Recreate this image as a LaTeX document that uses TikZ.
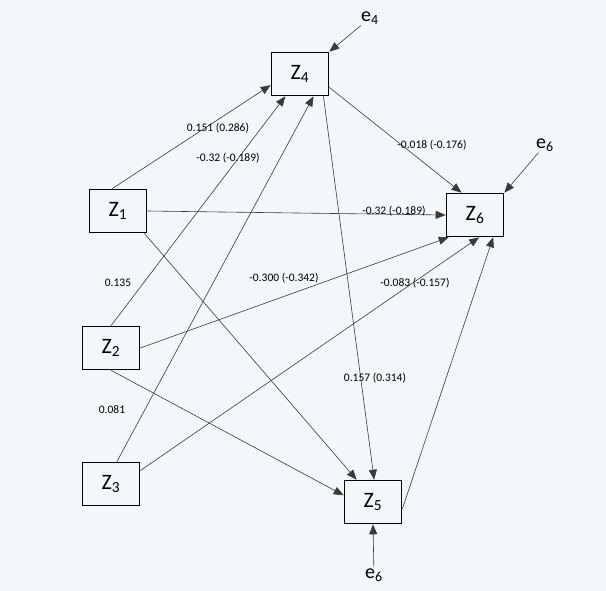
\documentclass[tikz,border=0pt]{standalone}
\usepackage{fontspec}
\setmainfont{Carlito}
\usetikzlibrary{arrows.meta,calc}
\definecolor{paper}{HTML}{F3F7F9}
\definecolor{ink}{HTML}{3A3A3A}
\tikzset{
  zbox/.style={draw=black, line width=1.6pt, minimum width=57pt, minimum height=43pt, inner sep=0pt, font=\fontsize{22}{24}\selectfont},
  err/.style={inner sep=1pt, font=\fontsize{20}{22}\selectfont},
  coef/.style={font=\fontsize{11.5}{13}\selectfont, inner sep=1pt},
  path/.style={ink, line width=0.6pt, -{Triangle[length=10pt,width=8pt]}},
}
\begin{document}
\begin{tikzpicture}[x=1pt,y=-1pt]
  % paper
  \fill[paper] (0,0) rectangle (606,591);
  \useasboundingbox (0,0) rectangle (606,591);

  % variables
  \node[zbox] (z1) at (118,211) {Z\textsubscript{1}};
  \node[zbox] (z2) at (111,348) {Z\textsubscript{2}};
  \node[zbox] (z3) at (111,484) {Z\textsubscript{3}};
  \node[zbox] (z4) at (300,74) {Z\textsubscript{4}};
  \node[zbox] (z5) at (373,502) {Z\textsubscript{5}};
  \node[zbox] (z6) at (475,215) {Z\textsubscript{6}};

  % error terms
  \node[err] (e4) at (370,18) {e\textsubscript{4}};
  \node[err] (e6t) at (545,145) {e\textsubscript{6}};
  \node[err] (e6b) at (374,575) {e\textsubscript{6}};

  % paths into Z4
  \draw[path] ($(z1.north west)!0.4!(z1.north east)$) -- ($(z4.north west)!0.75!(z4.south west)$);
  \draw[path] ($(z2.north west)!0.5!(z2.north east)$) -- ($(z4.south west)!0.25!(z4.south east)$);
  \draw[path] ($(z3.north west)!0.6!(z3.north east)$) -- ($(z4.south west)!0.73!(z4.south east)$);
  \draw[path] (e4) -- (z4.north east);

  % paths into Z5
  \draw[path] ($(z4.south west)!0.9!(z4.south east)$) -- ($(z5.north west)!0.52!(z5.north east)$);
  \draw[path] ($(z1.south east)+(-3,0)$) -- ($(z5.north west)!0.22!(z5.north east)$);
  \draw[path] (z2.south) -- ($(z5.north west)!0.35!(z5.south west)$);
  \draw[path] (e6b) -- (z5.south);

  % paths into Z6
  \draw[path] ($(z4.north east)!0.8!(z4.south east)$) -- ($(z6.north west)!0.27!(z6.north east)$);
  \draw[path] (z1.east) -- (z6.west);
  \draw[path] (z2.east) -- ($(z6.south west)+(3,0)$);
  \draw[path] ($(z3.north east)!0.2!(z3.south east)$) -- ($(z6.south west)!0.57!(z6.south east)$);
  \draw[path] ($(z5.north east)!0.66!(z5.south east)$) -- ($(z6.south west)!0.81!(z6.south east)$);
  \draw[path] (e6t) -- (z6.north east);

  % coefficients
  \foreach \x/\y/\t in {218/128/{0.151 (0.286)}, 228/158/{-0.32 (-0.189)}, 432/145/{-0.018 (-0.176)},
                        394/211/{-0.32 (-0.189)}, 118/283/{0.135}, 284/278/{-0.300 (-0.342)},
                        415/283/{-0.083 (-0.157)}, 375/378/{0.157 (0.314)}, 112/410/{0.081}} {
    \node[coef] at (\x,\y) {\t};
  }
\end{tikzpicture}
\end{document}
